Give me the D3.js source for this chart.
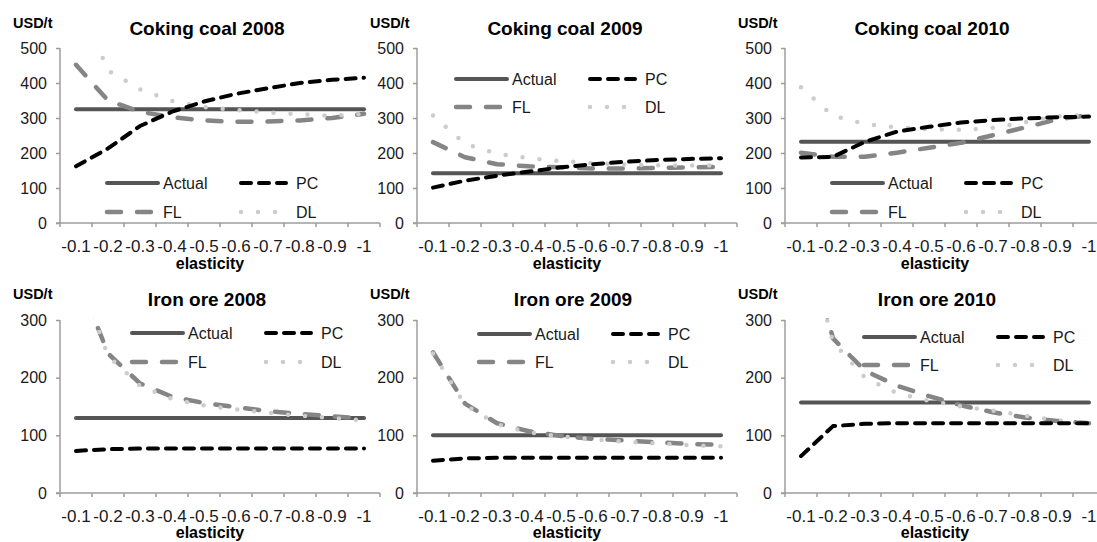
<!DOCTYPE html>
<html>
<head>
<meta charset="utf-8">
<script src="https://cdn.jsdelivr.net/npm/d3@7"></script>
<style>
  html, body { margin: 0; padding: 0; background: #fff; }
  svg { display: block; font-family: "Liberation Sans", Arial, sans-serif; }
</style>
</head>
<body>
<svg id="chart" width="1097" height="542"></svg>
<script>
// Price elasticity categories on the x axis
const elasticity = ["-0.1", "-0.2", "-0.3", "-0.4", "-0.5", "-0.6", "-0.7", "-0.8", "-0.9", "-1"];

// Y axis tick values per row
const coalTicks = [0, 100, 200, 300, 400, 500];
const oreTicks = [0, 100, 200, 300];

// Series names in legend order
const seriesNames = ["Actual", "PC", "FL", "DL"];

// Coking coal, USD/t
const coal2008 = {
  Actual: [325, 325, 325, 325, 325, 325, 325, 325, 325, 325],
  PC: [162, 213, 277, 318, 347, 369, 385, 400, 409, 415],
  FL: [452, 350, 318, 302, 293, 289, 290, 293, 300, 312],
  DL: [650, 436, 382, 349, 331, 323, 316, 311, 306, 312]
};
const coal2009 = {
  Actual: [142, 142, 142, 142, 142, 142, 142, 142, 142, 142],
  PC: [101, 121, 135, 147, 159, 168, 175, 180, 183, 185],
  FL: [231, 188, 168, 162, 159, 156, 156, 157, 159, 160],
  DL: [307, 226, 198, 185, 177, 171, 167, 165, 164, 165]
};
const coal2010 = {
  Actual: [232, 232, 232, 232, 232, 232, 232, 232, 232, 232],
  PC: [187, 189, 232, 261, 275, 287, 294, 299, 302, 304],
  FL: [201, 189, 189, 201, 215, 229, 251, 273, 296, 308],
  DL: [388, 306, 283, 273, 268, 266, 272, 288, 305, 309]
};

// Iron ore, USD/t
const ore2008 = {
  Actual: [130, 130, 130, 130, 130, 130, 130, 130, 130, 130],
  PC: [73, 76, 77, 77, 77, 77, 77, 77, 77, 77],
  FL: [383, 242, 190, 167, 156, 149, 142, 137, 133, 129],
  DL: [390, 238, 186, 163, 152, 145, 139, 134, 130, 126]
};
const ore2009 = {
  Actual: [100, 100, 100, 100, 100, 100, 100, 100, 100, 100],
  PC: [56, 60, 61, 61, 61, 61, 61, 61, 61, 61],
  FL: [244, 155, 121, 107, 99, 94, 91, 88, 85, 84],
  DL: [242, 153, 119, 105, 98, 93, 89, 86, 83, 81]
};
const ore2010 = {
  Actual: [157, 157, 157, 157, 157, 157, 157, 157, 157, 157],
  PC: [64, 116, 120, 121, 121, 121, 121, 121, 121, 121],
  FL: [480, 268, 212, 186, 168, 152, 140, 131, 125, 121],
  DL: [470, 262, 200, 173, 160, 150, 143, 134, 126, 121]
};

// Line styles for each series
const styles = {
  Actual: { color: "#555555", width: 4, dash: null, cap: "round" },
  PC: { color: "#000000", width: 4, dash: "10,8", cap: "round" },
  FL: { color: "#858585", width: 4.5, dash: "14,16", cap: "round" },
  DL: { color: "#cccccc", width: 4.5, dash: "0,17", cap: "round" }
};

// Two rows of panels: vertical extents and y domains
const rows = [
  { top: 48, bottom: 223, max: 500, ticks: coalTicks, titleY: 35, unitY: 28, tickLabelY: 252, xTitleY: 269 },
  { top: 320, bottom: 493, max: 300, ticks: oreTicks, titleY: 306, unitY: 299, tickLabelY: 522, xTitleY: 538 }
];

const panels = [
  { title: "Coking coal 2008", data: coal2008, row: 0, x0: 60, titleX: 207, lx: 105, ly: 183, gap: 29 },
  { title: "Coking coal 2009", data: coal2009, row: 0, x0: 417, titleX: 565, lx: 454, ly: 79, gap: 28 },
  { title: "Coking coal 2010", data: coal2010, row: 0, x0: 785, titleX: 932, lx: 830, ly: 183, gap: 29 },
  { title: "Iron ore 2008", data: ore2008, row: 1, x0: 60, titleX: 207, lx: 130, ly: 333, gap: 29 },
  { title: "Iron ore 2009", data: ore2009, row: 1, x0: 417, titleX: 573, lx: 477, ly: 334, gap: 28 },
  { title: "Iron ore 2010", data: ore2010, row: 1, x0: 785, titleX: 937, lx: 862, ly: 337, gap: 28 }
];

const plotWidth = 320;
const axisColor = "#9c9c9c";
const textColor = "#1a1a1a";

const svg = d3.select("#chart");
const defs = svg.append("defs");

panels.forEach((p, i) => {
  const r = rows[p.row];
  const g = svg.append("g");

  const x = d3.scaleBand().domain(elasticity).range([p.x0, p.x0 + plotWidth]).paddingInner(0).paddingOuter(0);
  const y = d3.scaleLinear().domain([0, r.max]).range([r.bottom, r.top]);
  const cx = d => x(d) + x.bandwidth() / 2;

  // Clip lines to the plot area
  const clipId = "clip" + i;
  defs.append("clipPath").attr("id", clipId)
    .append("rect")
    .attr("x", p.x0).attr("y", r.top - 2)
    .attr("width", plotWidth + 6).attr("height", r.bottom - r.top + 6);

  // Y axis
  const yAxis = d3.axisLeft(y).tickValues(r.ticks).tickSize(4).tickPadding(9).tickFormat(d3.format("d"));
  const ya = g.append("g").attr("transform", `translate(${p.x0},0)`).call(yAxis);
  ya.select(".domain").attr("stroke", axisColor).attr("stroke-width", 1.5).attr("d", `M0,${r.top}V${r.bottom}`);
  ya.selectAll(".tick line").attr("stroke", axisColor).attr("stroke-width", 1.5);
  ya.selectAll(".tick text").attr("fill", textColor).style("font-size", "16px")
    .style("font-family", "'Liberation Sans', Arial, sans-serif");

  // X axis: labels centred in bands, tick marks at band boundaries
  const xAxis = d3.axisBottom(x).tickSize(0).tickPadding(0);
  const xa = g.append("g").attr("transform", `translate(0,${r.bottom})`).call(xAxis);
  xa.select(".domain").remove();
  xa.selectAll(".tick text").attr("fill", textColor).attr("y", r.tickLabelY - r.bottom).attr("dy", 0)
    .style("font-size", "17px").style("font-family", "'Liberation Sans', Arial, sans-serif");

  const bounds = elasticity.map(d => x(d)).concat([p.x0 + plotWidth]);
  g.append("line")
    .attr("x1", p.x0 - 4).attr("x2", p.x0 + plotWidth)
    .attr("y1", r.bottom).attr("y2", r.bottom)
    .attr("stroke", axisColor).attr("stroke-width", 1.5);
  g.selectAll(".xtick").data(bounds).join("line")
    .attr("x1", d => d).attr("x2", d => d)
    .attr("y1", r.bottom).attr("y2", r.bottom + 4)
    .attr("stroke", axisColor).attr("stroke-width", 1.5);

  // Series lines
  const line = d3.line().x((v, j) => cx(elasticity[j])).y(v => y(v));
  const lg = g.append("g").attr("clip-path", `url(#${clipId})`);
  ["Actual", "FL", "DL", "PC"].forEach(name => {
    const s = styles[name];
    lg.append("path")
      .datum(p.data[name])
      .attr("d", line)
      .attr("fill", "none")
      .attr("stroke", s.color)
      .attr("stroke-width", s.width)
      .attr("stroke-linecap", s.cap)
      .attr("stroke-linejoin", "round")
      .attr("stroke-dasharray", s.dash);
  });

  // Legend (two columns, two rows)
  const legendPos = {
    Actual: { dx: 0, len: 55, tx: 58, row: 0 },
    PC: { dx: 134, len: 49, tx: 191, row: 0 },
    FL: { dx: 0, len: 55, tx: 58, row: 1 },
    DL: { dx: 134, len: 49, tx: 191, row: 1 }
  };
  seriesNames.forEach(name => {
    const s = styles[name];
    const lp = legendPos[name];
    const yy = p.ly + lp.row * p.gap;
    g.append("line")
      .attr("x1", p.lx + lp.dx + 2).attr("x2", p.lx + lp.dx + lp.len - 2)
      .attr("y1", yy).attr("y2", yy)
      .attr("stroke", s.color).attr("stroke-width", s.width)
      .attr("stroke-linecap", s.cap)
      .attr("stroke-dasharray", s.dash);
    g.append("text")
      .attr("x", p.lx + lp.tx).attr("y", yy + 6)
      .attr("fill", textColor)
      .style("font-size", "16px")
      .text(name);
  });

  // Titles
  g.append("text")
    .attr("x", p.titleX).attr("y", r.titleY)
    .attr("text-anchor", "middle")
    .attr("fill", "#000")
    .style("font-size", "19px").style("font-weight", "bold")
    .text(p.title);
  g.append("text")
    .attr("x", p.x0 - 47).attr("y", r.unitY)
    .attr("fill", "#000")
    .style("font-size", "14.5px").style("font-weight", "bold")
    .text("USD/t");
  g.append("text")
    .attr("x", p.x0 + plotWidth / 2 - 10).attr("y", r.xTitleY)
    .attr("text-anchor", "middle")
    .attr("fill", "#000")
    .style("font-size", "16px").style("font-weight", "bold")
    .text("elasticity");
});
</script>
</body>
</html>
